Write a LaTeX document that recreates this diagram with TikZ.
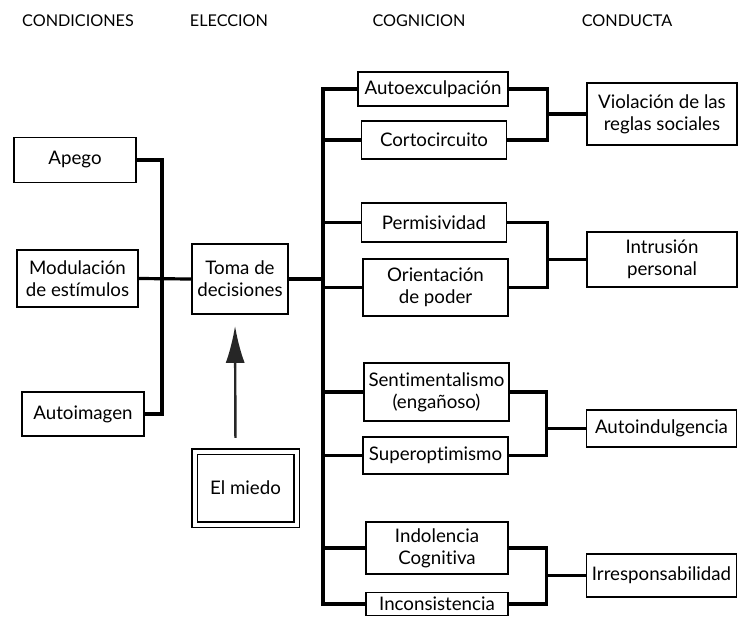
\documentclass[tikz,border=0pt]{standalone}
\usepackage{fontspec}
\setmainfont{Lato}[Ligatures={NoCommon}]
\usetikzlibrary{arrows.meta, positioning}
\tikzset{
  box/.style = {draw, line width=1.7pt, align=center, inner sep=0pt,
                font=\fontsize{18.7}{22}\selectfont},
  cog/.style = {box, minimum width=145pt},
  act/.style = {box, minimum width=150pt},
  head/.style = {font=\fontsize{16.2}{18}\selectfont},
  wire/.style = {line width=3.2pt},
  bigarrow/.style = {-{Latex[length=37pt,width=19pt]}, line width=2.4pt, black!85}
}

\begin{document}
\begin{tikzpicture}[x=1pt, y=-1pt]
    \useasboundingbox (0,0) rectangle (738,621);

    % column titles
    \node[head] (hcond) at (78,21) {CONDICIONES};
    \node[head] (helec) at (229,21) {ELECCION};
    \node[head] (hcogn) at (419,21) {COGNICION};
    \node[head] (hcond2) at (627,21) {CONDUCTA};

    % conditions
    \node[box, minimum width=122pt, minimum height=45pt] (apego) at (75,160) {Apego};
    \node[box, minimum width=121pt, minimum height=57pt] (modul) at (77.5,278.5) {Modulación\\de estímulos};
    \node[box, minimum width=122pt, minimum height=44pt] (autoimg) at (83,414) {Autoimagen};

    % choice
    \node[box, minimum width=96pt, minimum height=70pt] (toma) at (240,279) {Toma de\\decisiones};
    \node[box, double, double distance=4pt, line width=1.3pt,
          minimum width=102pt, minimum height=73pt] (miedo) at (245.5,488) {El miedo};

    % cognition
    \node[cog, minimum width=150pt, minimum height=34pt] (autoexc) at (433,89) {Autoexculpación};
    \node[cog, minimum height=38pt] (corto) at (434,140) {Cortocircuito};
    \node[cog, minimum height=39pt] (permis) at (434,222.5) {Permisividad};
    \node[cog, minimum height=57pt] (orient) at (435.5,287.5) {Orientación\\de poder};
    \node[cog, minimum height=58pt] (senti) at (436.5,392) {Sentimentalismo\\(engañoso)};
    \node[cog, minimum height=37pt] (superopt) at (435.5,455.5) {Superoptimismo};
    \node[cog, minimum width=142pt, minimum height=52pt] (indol) at (437,548) {Indolencia\\Cognitiva};
    \node[cog, minimum width=142pt, minimum height=23pt] (incons) at (437,604) {Inconsistencia};

    % conduct
    \node[act, minimum height=62pt] (viol) at (662,114) {Violación de las\\reglas sociales};
    \node[act, minimum height=55pt] (intru) at (662,259.5) {Intrusión\\personal};
    \node[act, minimum height=37pt] (autoind) at (661.5,428.5) {Autoindulgencia};
    \node[act, minimum height=43pt] (irresp) at (661.5,575.5) {Irresponsabilidad};

    \coordinate (lbus) at (162,278);
    \coordinate (cbus) at (323,300);
    \coordinate[left=39pt of viol.west] (j1);
    \coordinate[left=39pt of intru.west] (j2);
    \coordinate[left=39pt of autoind.west] (j3);
    \coordinate[left=39pt of irresp.west] (j4);

    \draw[wire] (apego.east) -| (lbus) |- (autoimg.east);
    \draw[wire] (modul.east) -- (toma.west);
    \draw[wire] (toma.east) -- (toma.east -| cbus);
    \draw[wire] (autoexc.west) -| (cbus) |- (incons.west);
    \foreach \n in {corto, permis, orient, senti, superopt, indol}
        \draw[wire] (\n.west) -- (\n.west -| cbus);

    \draw[wire] (autoexc.east) -| (j1) |- (corto.east);
    \draw[wire] (j1) -- (viol.west);
    \draw[wire] (permis.east) -| (j2) |- (orient.east);
    \draw[wire] (j2) -- (intru.west);
    \draw[wire] (senti.east) -| (j3) |- (superopt.east);
    \draw[wire] (j3) -- (autoind.west);
    \draw[wire] (indol.east) -| (j4) |- (incons.east);
    \draw[wire] (j4) -- (irresp.west);

    \draw[bigarrow, shorten <=13pt, shorten >=11pt]
        ([xshift=-10pt]miedo.north) -- ([xshift=-5pt]toma.south);
\end{tikzpicture}
\end{document}
